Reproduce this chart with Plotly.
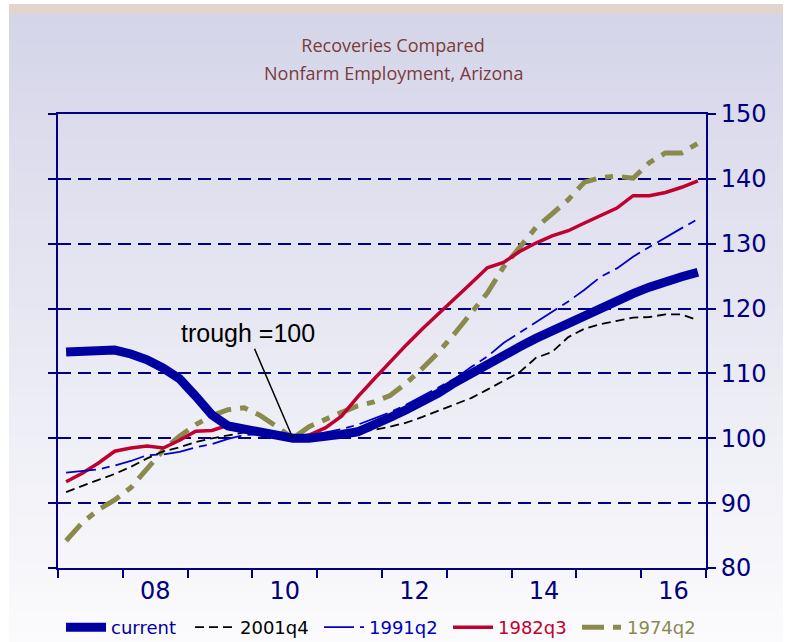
import plotly.graph_objects as go

# ---------------- data ----------------
quarters = [2007 + (i + 0.5) / 4 for i in range(40)]  # 2007q1 .. 2016q4

current = [113.3, 113.5, 113.6, 113.6, 113.0, 112.1, 110.8, 109.2, 106.5, 103.6,
           101.9, 101.4, 101.0, 100.5, 100.0, 100.0, 100.2, 100.6, 101.0, 102.0,
           103.2, 104.4, 105.6, 107.0, 108.6, 110.0, 111.5, 113.0, 114.1, 115.4,
           116.6, 117.8, 118.9, 120.0, 121.3, 122.3, 123.3, 124.2, 124.9, 125.6]

r2001q4 = [91.7, 92.7, 93.6, 94.5, 95.6, 96.9, 98.0, 98.6, 99.4, 100.0,
           100.5, 100.9, 100.8, 100.4, 100.0, 100.2, 100.5, 100.8, 101.0, 101.3,
           101.8, 102.4, 103.3, 104.3, 105.2, 106.2, 107.5, 108.8, 110.2, 112.4,
           113.3, 115.6, 116.9, 117.6, 118.1, 118.6, 118.7, 119.1, 119.1, 118.2]

r1991q2 = [94.7, 94.9, 95.2, 95.8, 96.5, 97.4, 97.5, 97.9, 98.6, 99.1,
           99.9, 100.5, 100.6, 100.3, 100.0, 100.4, 100.9, 101.4, 102.1, 103.0,
           104.0, 105.2, 106.5, 107.8, 109.2, 111.0, 112.6, 114.7, 116.3, 118.0,
           119.6, 121.1, 122.9, 124.9, 126.2, 128.0, 129.5, 131.0, 132.4, 133.8]

r1982q3 = [93.3, 94.6, 96.2, 98.0, 98.5, 98.8, 98.5, 99.7, 101.1, 101.2,
           102.0, 101.6, 101.0, 100.5, 100.0, 100.5, 101.6, 103.4, 106.4, 109.1,
           111.8, 114.4, 116.9, 119.2, 121.6, 123.9, 126.3, 127.1, 128.8, 130.1,
           131.2, 132.0, 133.2, 134.4, 135.5, 137.4, 137.4, 137.9, 138.7, 139.7]

r1974q2 = [84.2, 87.0, 89.0, 90.5, 92.4, 95.3, 98.2, 100.3, 102.1, 103.5,
           104.4, 104.7, 103.5, 101.8, 100.0, 101.8, 103.0, 104.0, 105.0, 105.6,
           106.6, 108.5, 110.8, 113.3, 116.2, 119.3, 122.4, 126.4, 129.6, 132.5,
           134.6, 136.8, 139.5, 140.2, 140.4, 140.1, 142.5, 144.0, 144.0, 145.5]

year_ticks = [2007, 2008, 2009, 2010, 2011, 2012, 2013, 2014, 2015, 2016, 2017]
label_vals = [2008.5, 2010.5, 2012.5, 2014.5, 2016.5]
label_text = ["08", "10", "12", "14", "16"]
y_ticks = [80, 90, 100, 110, 120, 130, 140, 150]

title_line1 = "Recoveries Compared"
title_line2 = "Nonfarm Employment, Arizona"

trough_x = quarters[14]
trough_y = 100

NAVY = "#000080"
TITLE_COL = "#7a3b3b"

fig = go.Figure()

series = [
    ("1974q2", r1974q2, "#8a8a4c", 5, "22px,9px,8px,9px", "#8a8a50", 5),
    ("1982q3", r1982q3, "#c0002f", 3.5, "solid", "#c00030", 4),
    ("1991q2", r1991q2, "#0000c8", 1.8, "30px,6px,8px,6px", "#0000c0", 3),
    ("2001q4", r2001q4, "#000000", 1.8, "9px,5px", "#000000", 2),
    ("current", current, "#0000a0", 9, "solid", "#0000a0", 1),
]
for name, vals, col, w, dash, tcol, rank in series:
    fig.add_trace(go.Scatter(
        x=quarters, y=vals, mode="lines",
        name=f'<span style="color:{tcol}">{name}</span>',
        line=dict(color=col, width=w, dash=dash),
        legendrank=rank, hoverinfo="skip",
    ))

# background gradient (page) + top stripe
PL, PR, PT, PB = 58, 706, 114, 568
W_, H_ = PR - PL, PB - PT
def px2x(X):
    return (X - PL) / W_
def px2y(Y):
    return (PB - Y) / H_

shapes = []
top_c = (213, 213, 233)
bot_c = (251, 251, 253)
n = 64
y_start, y_end = 14, 642
for k in range(n):
    t = k / (n - 1)
    c = tuple(round(top_c[j] + (bot_c[j] - top_c[j]) * t) for j in range(3))
    ya = y_start + (y_end - y_start) * k / n
    yb = y_start + (y_end - y_start) * (k + 1) / n + 0.8
    shapes.append(dict(type="rect", xref="paper", yref="paper", layer="below",
                       x0=px2x(9), x1=px2x(783), y0=px2y(yb), y1=px2y(ya),
                       line=dict(width=0), fillcolor="rgb(%d,%d,%d)" % c))
shapes.append(dict(type="rect", xref="paper", yref="paper", layer="below",
                   x0=px2x(9), x1=px2x(783), y0=px2y(14), y1=px2y(4),
                   line=dict(width=0), fillcolor="#e0d6cc"))

fig.update_layout(
    width=786, height=642,
    margin=dict(l=PL, r=786 - PR, t=PT, b=642 - PB, autoexpand=False),
    paper_bgcolor="white",
    plot_bgcolor="rgba(0,0,0,0)",
    shapes=shapes,
    title=dict(
        text=title_line1,
        x=0.5, xanchor="center", y=1 - 46 / 642, yanchor="middle",
        font=dict(family="Open Sans", size=18, color=TITLE_COL),
    ),
    showlegend=True,
    legend=dict(
        orientation="h", x=px2x(61), xanchor="left", y=px2y(609), yanchor="top",
        font=dict(family="DejaVu Sans", size=18),
        bgcolor="rgba(0,0,0,0)", entrywidth=74, entrywidthmode="pixels",
        itemwidth=40,
    ),
    xaxis=dict(
        range=[2007, 2017],
        tickmode="array", tickvals=label_vals, ticktext=label_text,
        ticks="", showgrid=False, zeroline=False,
        showline=True, linecolor=NAVY, linewidth=2, mirror=True,
        tickfont=dict(family="DejaVu Sans", size=24, color=NAVY),
        minor=dict(tickmode="array", tickvals=year_ticks, ticks="outside",
                   ticklen=8, tickwidth=2, tickcolor=NAVY, showgrid=False),
        fixedrange=True,
    ),
    yaxis=dict(
        range=[80, 150], side="right",
        tickmode="array", tickvals=y_ticks,
        ticks="outside", ticklen=8, tickwidth=2, tickcolor=NAVY,
        showgrid=True, gridcolor=NAVY, gridwidth=2, griddash="13px,7px",
        zeroline=False,
        showline=True, linecolor=NAVY, linewidth=2, mirror="ticks",
        tickfont=dict(family="DejaVu Sans", size=24, color=NAVY),
        fixedrange=True,
    ),
    annotations=[
        dict(
            x=trough_x, y=trough_y, xref="x", yref="y",
            text="trough =100", showarrow=True, arrowhead=0, arrowwidth=1.5,
            arrowcolor="black", ax=-45, ay=-105, standoff=0,
            font=dict(family="Liberation Sans", size=25, color="black"),
        ),
        dict(
            x=px2x(393), y=px2y(73), xref="paper", yref="paper",
            xanchor="center", yanchor="middle", showarrow=False,
            text=title_line2,
            font=dict(family="Open Sans", size=18, color=TITLE_COL),
        ),
    ],
)

fig.write_html(
    "out.html",
    config={"displayModeBar": False},
    post_script="document.body.style.margin='0';document.body.style.overflow='hidden';",
)
